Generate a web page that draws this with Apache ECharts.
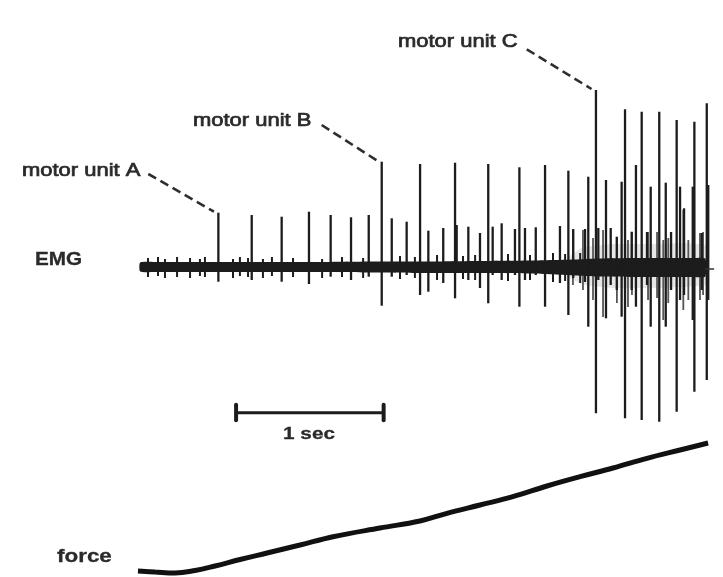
<!DOCTYPE html>
<html>
<head>
<meta charset="utf-8">
<title>Motor unit recruitment: EMG and force</title>
<script src="https://cdn.jsdelivr.net/npm/echarts@6/dist/echarts.min.js"></script>
<style>
  html, body { margin: 0; padding: 0; background: #fff; }
  #chart { width: 723px; height: 577px; }
</style>
</head>
<body>
<div id="chart"></div>
<script>
// ---- EMG spikes: time (s), height above baseline, depth below baseline (a.u.)
const spikeTime = [
  0.530, 0.756, 0.959, 1.144, 1.291, 1.429, 1.549, 1.637, 1.705, 1.806,
  1.897, 1.953, 2.054, 2.134, 2.145, 2.224, 2.303, 2.359, 2.389, 2.450,
  2.540, 2.570, 2.608, 2.681, 2.744, 2.845, 2.902, 2.935, 3.015, 3.037,
  3.089, 3.105, 3.157, 3.189, 3.230, 3.263, 3.286, 3.331, 3.360, 3.399,
  3.435, 3.460, 3.518, 3.562, 3.598, 3.636, 3.659, 3.686, 3.745, 3.756,
  3.806, 3.840, 3.850
];
const spikeUp = [
  5.43, 5.20, 5.03, 5.53, 5.20, 4.97, 5.20, 10.53, 4.87, 4.53,
  10.30, 3.63, 3.90, 10.43, 4.20, 4.03, 3.40, 10.30, 4.03, 4.37,
  3.80, 9.97, 3.90, 3.97, 10.20, 4.10, 9.63, 3.80, 3.80, 9.03,
  17.70, 3.90, 8.70, 3.90, 3.03, 8.53, 15.77, 3.53, 10.20, 15.53,
  3.50, 8.03, 15.53, 8.43, 3.50, 14.70, 8.03, 5.87, 8.03, 14.53,
  3.40, 16.37, 8.20
];
const spikeDown = [
  1.47, 1.30, 1.47, 1.70, 0.97, 1.30, 0.97, 3.87, 0.97, 0.80,
  2.80, 2.47, 1.60, 3.13, 0.50, 1.30, 2.10, 3.63, 0.80, 1.30,
  0.80, 3.97, 1.30, 0.80, 3.97, 1.60, 4.80, 1.10, 1.50, 5.97,
  14.63, 1.30, 5.13, 1.80, 2.30, 4.97, 15.13, 2.30, 3.97, 15.30,
  1.80, 5.97, 15.47, 5.97, 2.30, 14.47, 3.30, 2.80, 5.30, 12.47,
  2.30, 11.30, 3.30
];

// smaller, fainter units firing during the dense part of the burst
const minorTime = [
  2.933, 3.001, 3.069, 3.137, 3.231, 3.306, 3.333, 3.442, 3.503, 3.545,
  3.579, 3.681, 3.715, 3.794, 3.815
];
const minorUp = [
  3.7, 3.7, 2.9, 3.7, 3.0, 2.7, 3.5, 3.5, 3.5, 2.7,
  2.9, 5.7, 2.7, 3.4, 3.5
];
const minorDown = [
  1.8, 2.3, 3.3, 5.0, 3.6, 4.0, 2.8, 3.3, 3.1, 5.3,
  3.6, 4.3, 3.3, 3.3, 2.8
];

// ---- background noise band of the EMG (upper / lower envelope)
const bandTime  = [0.00, 0.10, 0.40, 0.80, 1.20, 1.60, 1.95, 2.30, 2.65, 2.95, 3.10, 3.40, 3.75, 3.83];
const bandUpper = [0.45, 0.50, 0.50, 0.50, 0.50, 0.55, 0.55, 0.60, 0.65, 0.75, 0.85, 0.90, 0.90, 0.85];
const bandLower = [-0.45, -0.50, -0.50, -0.50, -0.50, -0.55, -0.60, -0.60, -0.65, -0.85, -0.95, -1.00, -1.00, -0.95];

// faint grey of overlapping small potentials in the dense part
const hazeTime  = [2.90, 3.00, 3.20, 3.45, 3.70, 3.84];
const hazeUpper = [1.0, 2.0, 2.3, 2.3, 2.4, 2.2];
const hazeLower = [-1.0, -1.8, -2.1, -2.1, -2.0, -1.8];

// small noise flicks poking out of the band
const noiseTime = [
  0.053, 0.121, 0.168, 0.250, 0.338, 0.405, 0.439, 0.629, 0.676, 0.731,
  0.832, 0.893, 1.036, 1.233, 1.368, 1.511, 1.761, 1.862, 2.012, 2.188,
  2.270, 2.493, 2.642, 2.798, 2.880, 2.982
];
const noiseUp = [
  0.9, 1.0, 0.8, 1.0, 0.9, 0.8, 1.0, 0.8, 1.0, 0.9,
  0.8, 1.0, 0.9, 0.8, 1.0, 0.9, 1.1, 1.0, 1.2, 1.1,
  1.2, 1.3, 1.2, 1.4, 1.3, 1.4
];
const noiseDown = [
  1.0, 0.9, 1.1, 1.0, 1.1, 0.9, 1.0, 1.1, 0.9, 1.0,
  1.1, 0.9, 1.0, 1.1, 1.0, 1.1, 1.2, 1.1, 1.3, 1.2,
  1.3, 1.4, 1.3, 1.5, 1.4, 1.6
];

// thin tail of the trace after the last burst
const tailTime = [3.83, 3.89];
const tailAmp  = [-0.2, -0.2];

// ---- force trace (a.u.)
const forceTime = [
  -0.015, 0.100, 0.236, 0.372, 0.507, 0.677, 0.860, 1.083, 1.307, 1.625,
  1.896, 2.079, 2.303, 2.526, 2.757, 2.981, 3.205, 3.435, 3.659, 3.849
];
const forceValue = [
  0.10, 0.00, -0.10, 0.15, 0.60, 1.25, 1.90, 2.70, 3.53, 4.40,
  5.10, 5.87, 6.70, 7.53, 8.60, 9.53, 10.40, 11.37, 12.20, 12.90
];

// ---- annotations
const scaleBarStart = 0.65;     // s
const scaleBarLength = 1;       // s  ("1 sec")
const scaleBarLevel = -14.57;   // EMG units, below the trace
const labelA = [0.055, 9.3];    // where each leader starts (time, amplitude)
const labelB = [1.230, 14.2];
const labelC = [2.620, 21.77];
const unitA = 0, unitB = 7, unitC = 30; // first spike of each unit

const INK = '#1c1c1c';
const TEXT = '#2a2a2a';

function leader(start, idx, name) {
  return {
    name: name,
    type: 'line',
    yAxisIndex: 0,
    symbol: 'none',
    silent: true,
    lineStyle: { color: '#2e2e2e', width: 2.6, type: [9, 5] },
    data: [start, [spikeTime[idx] - 0.03, spikeUp[idx] + 0.1]]
  };
}

function verticalStroke(width, color) {
  return function (params, api) {
    const t = api.value(0);
    const p1 = api.coord([t, api.value(1)]);
    const p2 = api.coord([t, -api.value(2)]);
    return {
      type: 'line',
      shape: { x1: p1[0], y1: p1[1], x2: p2[0], y2: p2[1] },
      style: { stroke: color, lineWidth: width }
    };
  };
}

function envelope(times, upper, lower, fill, smooth) {
  return function (params, api) {
    const pts = [];
    for (let i = 0; i < times.length; i++) pts.push(api.coord([times[i], upper[i]]));
    for (let i = times.length - 1; i >= 0; i--) pts.push(api.coord([times[i], lower[i]]));
    return { type: 'polygon', shape: { points: pts, smooth: smooth }, style: { fill: fill } };
  };
}

function label(text, x, y, opts) {
  return {
    type: 'text', x: x, y: y, scaleX: opts.scaleX, silent: true,
    style: {
      text: text,
      fontFamily: 'Liberation Sans',
      fontWeight: opts.bold ? 'bold' : 'normal',
      fontSize: opts.size,
      fill: TEXT,
      stroke: TEXT,
      lineWidth: opts.bold ? 0.3 : 0.7,
      textAlign: opts.align || 'left',
      textVerticalAlign: 'middle'
    }
  };
}

const chart = echarts.init(document.getElementById('chart'), null, { renderer: 'canvas' });

const option = {
  backgroundColor: '#ffffff',
  animation: false,
  grid: { left: 0, right: 0, top: 0, bottom: 0 },
  xAxis: { type: 'value', min: -0.95, max: 3.95, show: false },
  yAxis: [
    { type: 'value', min: -31.0, max: 26.7, show: false },   // EMG amplitude
    { type: 'value', min: -0.5, max: 57.2, show: false }     // force
  ],
  series: [
    {
      name: 'EMG haze',
      type: 'custom',
      yAxisIndex: 0,
      silent: true,
      data: [[hazeTime[0], 0]],
      encode: { x: 0, y: 1 },
      renderItem: envelope(hazeTime, hazeUpper, hazeLower, 'rgba(60,60,60,0.12)', 0)
    },
    {
      name: 'EMG minor units',
      type: 'custom',
      yAxisIndex: 0,
      silent: true,
      data: minorTime.map((t, i) => [t, minorUp[i], minorDown[i]]),
      encode: { x: 0, y: [1, 2] },
      renderItem: verticalStroke(1.8, '#555')
    },
    {
      name: 'EMG band',
      type: 'custom',
      yAxisIndex: 0,
      silent: true,
      data: [[bandTime[0], 0]],
      encode: { x: 0, y: 1 },
      renderItem: envelope(bandTime, bandUpper, bandLower, INK, 0.2)
    },
    {
      name: 'EMG tail',
      type: 'line',
      yAxisIndex: 0,
      symbol: 'none',
      silent: true,
      lineStyle: { color: '#333', width: 1.5 },
      data: tailTime.map((t, i) => [t, tailAmp[i]])
    },
    {
      name: 'EMG noise',
      type: 'custom',
      yAxisIndex: 0,
      silent: true,
      data: noiseTime.map((t, i) => [t, noiseUp[i], noiseDown[i]]),
      encode: { x: 0, y: [1, 2] },
      renderItem: verticalStroke(2, INK)
    },
    {
      name: 'EMG spikes',
      type: 'custom',
      yAxisIndex: 0,
      silent: true,
      data: spikeTime.map((t, i) => [t, spikeUp[i], spikeDown[i]]),
      encode: { x: 0, y: [1, 2] },
      renderItem: verticalStroke(2.3, INK)
    },
    leader(labelA, unitA, 'leader A'),
    leader(labelB, unitB, 'leader B'),
    leader(labelC, unitC, 'leader C'),
    {
      name: 'scale bar',
      type: 'line',
      yAxisIndex: 0,
      symbol: 'none',
      silent: true,
      lineStyle: { color: INK, width: 3 },
      data: [[scaleBarStart, scaleBarLevel], [scaleBarStart + scaleBarLength, scaleBarLevel]]
    },
    {
      name: 'scale bar ends',
      type: 'custom',
      yAxisIndex: 0,
      silent: true,
      data: [[scaleBarStart, 0.8, 0.75], [scaleBarStart + scaleBarLength, 0.8, 0.75]],
      encode: { x: 0, y: 1 },
      renderItem: function (params, api) {
        const t = api.value(0);
        const p1 = api.coord([t, scaleBarLevel + api.value(1)]);
        const p2 = api.coord([t, scaleBarLevel - api.value(2)]);
        return {
          type: 'line',
          shape: { x1: p1[0], y1: p1[1], x2: p2[0], y2: p2[1] },
          style: { stroke: INK, lineWidth: 4, lineCap: 'round' }
        };
      }
    },
    {
      name: 'force',
      type: 'line',
      yAxisIndex: 1,
      symbol: 'none',
      silent: true,
      smooth: 0.4,
      lineStyle: { color: '#111', width: 5, cap: 'butt' },
      data: forceTime.map((t, i) => [t, forceValue[i]])
    }
  ],
  graphic: [
    label('motor unit A', 22, 171, { size: 18, scaleX: 1.22 }),
    label('motor unit B', 193, 121, { size: 18, scaleX: 1.22 }),
    label('motor unit C', 398, 42, { size: 18, scaleX: 1.22 }),
    label('EMG', 35, 260, { size: 18, scaleX: 1.15, bold: true }),
    label('force', 57, 557, { size: 19, scaleX: 1.18, bold: true }),
    label('1 sec', 309, 434, { size: 17, scaleX: 1.22, bold: true, align: 'center' })
  ]
};

chart.setOption(option);
</script>
</body>
</html>
